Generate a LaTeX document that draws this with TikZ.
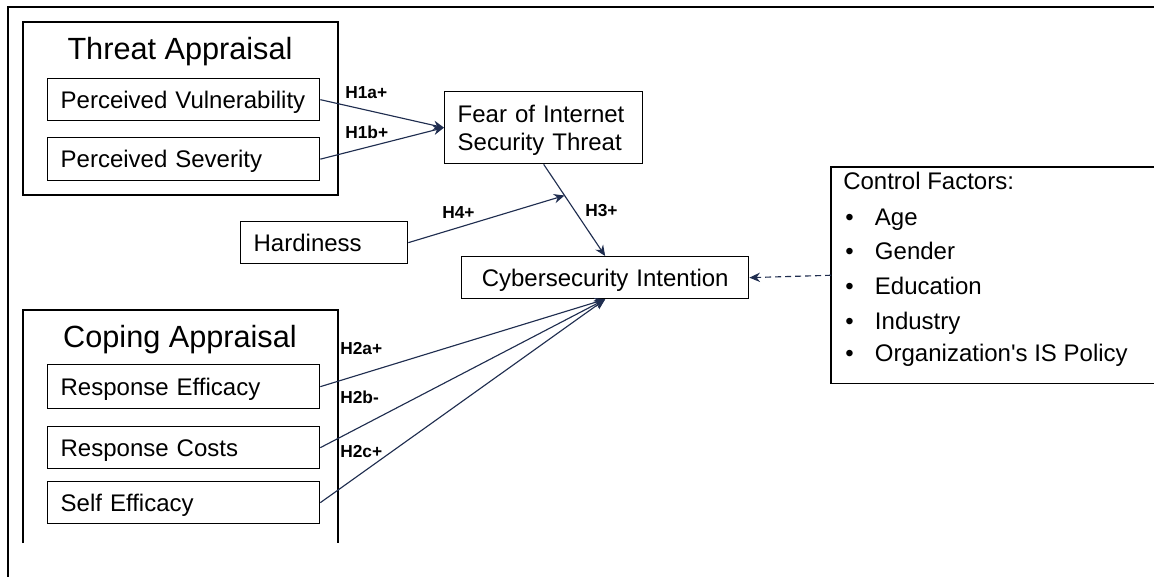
\documentclass[tikz,border=0pt]{standalone}
\usepackage{fontspec}
\setmainfont{Liberation Sans}
\newfontfamily\plainsans{Liberation Sans}
\usetikzlibrary{arrows.meta,calc}
\definecolor{arrowblue}{HTML}{1F2D4F}
\begin{document}
\begin{tikzpicture}[x=0.75pt,y=-0.75pt,
  box/.style={draw=black, line width=1pt, inner ysep=0pt, inner xsep=9.75pt,
    font=\fontsize{18}{21}\selectfont, anchor=north west, align=left},
  oneline/.style={box, text depth=0pt},
  grp/.style={draw=black, line width=1pt},
  grptitle/.style={anchor=base, inner sep=0pt, font=\fontsize{23}{27}\selectfont},
  hyp/.style={anchor=west, inner sep=0pt, font=\fontsize{13}{15}\selectfont\bfseries},
  path/.style={draw=arrowblue, line width=0.85pt, -{Stealth[length=8pt,width=7pt]}},
  ctrltext/.style={anchor=base west, inner sep=0pt, font=\plainsans\fontsize{18}{21}\selectfont}]
\useasboundingbox (0,0) rectangle (1154,577);

% outer frame (top and left edges)
\draw[line width=1.5pt] (8,580) -- (8,7) -- (1160,7);

% threat appraisal group
\draw[grp] (23,22) rectangle (338,195);
\node[grptitle] (tatitle) at (180,60) {Threat Appraisal};
\node[oneline, text width=184.5pt, minimum height=31.5pt] (pv) at (47,78) {Perceived Vulnerability};
\node[oneline, text width=184.5pt, minimum height=32.25pt] (ps) at (47,137) {Perceived Severity};

% coping appraisal group (open at the bottom)
\draw[grp] (23,543) -- (23,310) -- (338,310) -- (338,543);
\node[grptitle] (catitle) at (180,348) {Coping Appraisal};
\node[oneline, text width=184.5pt, minimum height=33pt] (re) at (47,364) {Response Efficacy};
\node[oneline, text width=184.5pt, minimum height=31.5pt] (rc) at (47,426) {Response Costs};
\node[oneline, text width=184.5pt, minimum height=31.5pt] (se) at (47,481) {Self Efficacy};

% central constructs
\node[box, text width=129pt, minimum height=54pt, text depth=20.5pt] (fear) at (444,91) {Fear of Internet\\Security Threat};
\node[oneline, text width=105.75pt, minimum height=31.5pt] (hard) at (240,221) {Hardiness};
\node[oneline, text width=195.75pt, minimum height=31.5pt, align=center] (ci) at (461,256) {Cybersecurity Intention};

% control factors box (runs past the right edge)
\node[anchor=north west, inner sep=0pt, minimum width=254.25pt, minimum height=162pt] (ctrl) at (831,167) {};
\draw[line width=1pt] (ctrl.north east) -- (ctrl.north west) -- (ctrl.south west) -- (ctrl.south east);
\node[ctrltext] (cf0) at (843,190) {Control Factors:};
\node[ctrltext] (cf1) at (845,226) {•\hspace{16pt}Age};
\node[ctrltext] (cf2) at (845,260) {•\hspace{16pt}Gender};
\node[ctrltext] (cf3) at (845,295) {•\hspace{16pt}Education};
\node[ctrltext] (cf4) at (845,330) {•\hspace{16pt}Industry};
\node[ctrltext] (cf5) at (845,362) {•\hspace{16pt}Organization's IS Policy};

% hypothesised paths
\draw[path] (pv.east) -- (fear.west);
\draw[path] (ps.east) -- (fear.west);
\draw[path] (fear.south) -- (ci.north);
\coordinate (mod) at ($(fear.south)!0.34!(ci.north)$);
\draw[path] (hard.east) -- (mod);
\draw[path] (re.east) -- (ci.south);
\draw[path] (rc.east) -- (ci.south);
\draw[path] (se.east) -- (ci.south);
\draw[path, dash pattern=on 4.5pt off 3pt] (ctrl.west) -- (ci.east);

% path labels
\node[hyp] (h1a) at (345,93) {H1a+};
\node[hyp] (h1b) at (345,132) {H1b+};
\node[hyp] (h4) at (442,213) {H4+};
\node[hyp] (h3) at (585,211) {H3+};
\node[hyp] (h2a) at (340,349) {H2a+};
\node[hyp] (h2b) at (340,397) {H2b-};
\node[hyp] (h2c) at (340,452) {H2c+};
\end{tikzpicture}
\end{document}
